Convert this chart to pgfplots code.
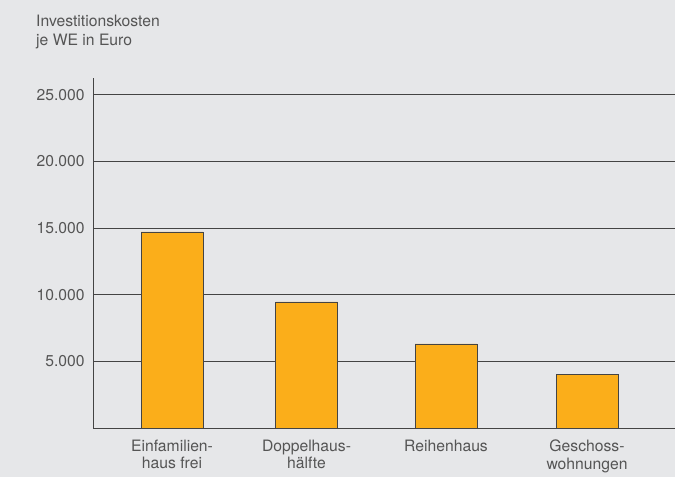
\documentclass[border=0pt]{standalone}
\usepackage{pgfplots}
\pgfplotsset{compat=1.18}
\usepackage{fontspec}
\setmainfont{TeX Gyre Heros}
\definecolor{bg}{HTML}{E6E7E9}
\definecolor{barfill}{HTML}{FBAE1A}
\definecolor{txt}{HTML}{555555}
\definecolor{linec}{HTML}{444444}
\begin{document}
\fontsize{15.7bp}{19bp}\selectfont
\begin{tikzpicture}
\clip (0,0) rectangle (675bp,477bp);
\fill[bg] (0,0) rectangle (675bp,477bp);
\node[anchor=base west, inner sep=0pt, text=txt, align=left] at (36bp,450bp) {Investitionskosten};
\node[anchor=base west, inner sep=0pt, text=txt, align=left] at (36bp,431bp) {je WE in Euro};
\begin{axis}[
  at={(93bp,49bp)}, anchor=south west,
  scale only axis, width=582bp, height=350bp,
  xmin=93, xmax=675, ymin=0, ymax=26250,
  axis x line=bottom, axis y line=left,
  axis line style={-, linec, line width=0.9bp},
  major tick length=0pt,
  scaled y ticks=false,
  ytick={5000,10000,15000,20000,25000},
  yticklabels={5.000,10.000,15.000,20.000,25.000},
  xtick={172,306.5,446,587},
  xticklabels={{Einfamilien-\\haus frei},{Doppelhaus-\\hälfte},{Reihenhaus},{Geschoss-\\wohnungen}},
  xticklabel style={align=center, text=txt, font=\fontsize{15.7bp}{17.3bp}\selectfont, yshift=-11bp, inner sep=1pt},
  yticklabel style={text=txt, font=\fontsize{15.7bp}{19bp}\selectfont, xshift=-3bp},
  ymajorgrids, major grid style={linec, line width=0.9bp},
  ybar, bar width=62bp,
]
\addplot[fill=barfill, draw=linec, line width=0.9bp] coordinates {(172,14700) (306.5,9450) (446,6300) (587,4000)};
\end{axis}
\end{tikzpicture}
\end{document}
